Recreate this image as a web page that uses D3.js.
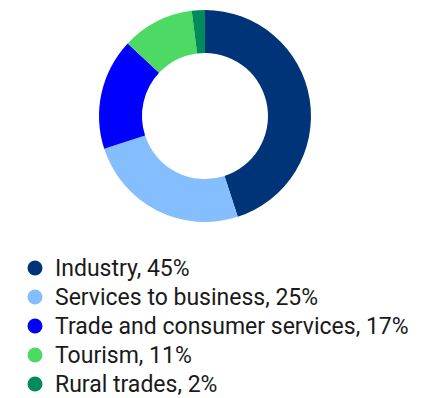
<!DOCTYPE html>
<html>
<head>
<meta charset="utf-8">
<script src="https://cdn.jsdelivr.net/npm/d3@7"></script>
<style>
  html, body { margin: 0; padding: 0; background: #fff; }
  svg { display: block; font-family: Roboto, "Noto Sans", sans-serif; }
</style>
</head>
<body>
<svg id="chart" width="439" height="398"></svg>
<script>
// Share of businesses by sector
const categories = ["Industry", "Services to business", "Trade and consumer services", "Tourism", "Rural trades"];
const shares = [45, 25, 17, 11, 2];
const colors = ["#003478", "#85BEFF", "#0000FF", "#4CD964", "#008C5A"];

const svg = d3.select("#chart");
const cx = 205, cy = 116, outerR = 106, innerR = 63;

const pie = d3.pie().sort(null).value(d => d.value);
const arc = d3.arc().innerRadius(innerR).outerRadius(outerR);

const data = categories.map((c, i) => ({ name: c, value: shares[i], color: colors[i] }));

svg.append("g")
  .attr("transform", `translate(${cx},${cy})`)
  .selectAll("path")
  .data(pie(data))
  .join("path")
  .attr("d", arc)
  .attr("fill", d => d.data.color);

// Legend
const legendY = d3.scalePoint().domain(categories).range([268, 384]);
const legend = svg.append("g");
const rows = legend.selectAll("g")
  .data(data)
  .join("g")
  .attr("transform", d => `translate(0,${legendY(d.name)})`);

rows.append("circle")
  .attr("cx", 35)
  .attr("cy", 0)
  .attr("r", 7.5)
  .attr("fill", d => d.color);

rows.append("text")
  .attr("x", 55)
  .attr("y", 0)
  .attr("dy", "0.35em")
  .attr("font-size", 23)
  .attr("fill", "#1a1a1a")
  .text(d => `${d.name}, ${d.value}%`);
</script>
</body>
</html>
